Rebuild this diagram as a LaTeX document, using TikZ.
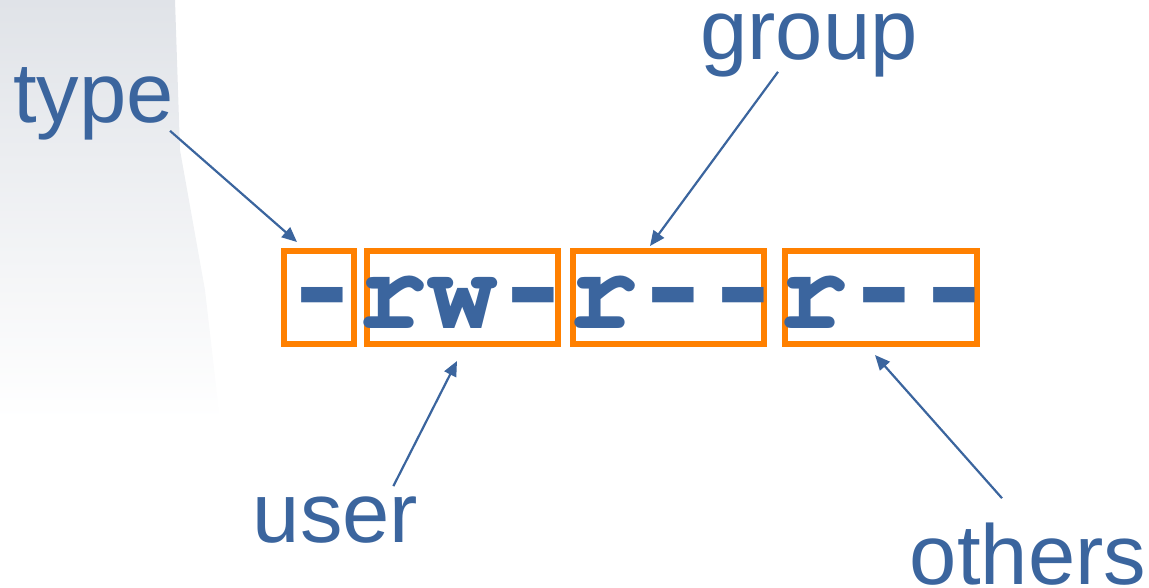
\documentclass[tikz,border=0pt]{standalone}
\usepackage[T1]{fontenc}
\usepackage{fontspec}
\setmainfont{Liberation Sans}
\newfontfamily\dashfont{Liberation Mono}
\usetikzlibrary{arrows.meta}
\definecolor{permblue}{RGB}{59,101,158}
\definecolor{permorange}{RGB}{255,128,0}
\definecolor{slidegray}{RGB}{224,227,232}
\newcommand{\permfont}{\fontencoding{T1}\fontfamily{pcr}\fontseries{b}\selectfont}
\newcommand{\permdash}{\makebox[70.2pt]{\scalebox{1.25}[1.1]{\dashfont\bfseries -}}}

\begin{document}
\begin{tikzpicture}[x=1pt, y=-1pt,
    lbl/.style={anchor=base, inner sep=0pt, text=permblue,
      font=\fontsize{85}{85}\selectfont},
    permbox/.style={draw=permorange, line width=6pt, inner sep=0pt,
      outer sep=0pt, minimum height=93pt},
    pointer/.style={-{Triangle[length=15pt,width=13pt]},
      line width=2.2pt, draw=permblue}]

    \useasboundingbox (0,0) rectangle (1149,587);

    \shade[top color=slidegray, bottom color=white]
      (0,0) -- (175,0) -- (180,150) -- (205,290) -- (220,420) -- (0,420) -- cycle;

    \node[permbox, minimum width=70pt] (typebox) at (319,297.5) {};
    \node[permbox, minimum width=191pt] (userbox) at (462.5,297.5) {};
    \node[permbox, minimum width=191pt] (groupbox) at (668,297.5) {};
    \node[permbox, minimum width=192pt] (othersbox) at (881,297.5) {};

    \node[anchor=base west, inner sep=0pt, text=permblue,
      font=\permfont\fontsize{117}{117}\selectfont]
      (perms) at (287,328)
      {\permdash rw\permdash r\permdash\permdash r\permdash\permdash};

    \node[lbl] (type) at (93.5,122) {type};
    \node[lbl] (group) at (809,59) {group};
    \node[lbl] (user) at (335.5,542) {user};
    \node[lbl] (others) at (1028,584) {others};

    \draw[pointer] ([shift={(-4,-9)}]type.south east)
      -- ([shift={(13,-9)}]typebox.north west);
    \draw[pointer] ([shift={(-31,-5)}]group.south)
      -- ([shift={(-18,-5)}]groupbox.north);
    \draw[pointer] ([shift={(-25,-10)}]user.north east)
      -- ([shift={(-5.5,17)}]userbox.south);
    \draw[pointer] ([shift={(-26,-24)}]others.north)
      -- ([shift={(-6,11)}]othersbox.south);
\end{tikzpicture}
\end{document}
